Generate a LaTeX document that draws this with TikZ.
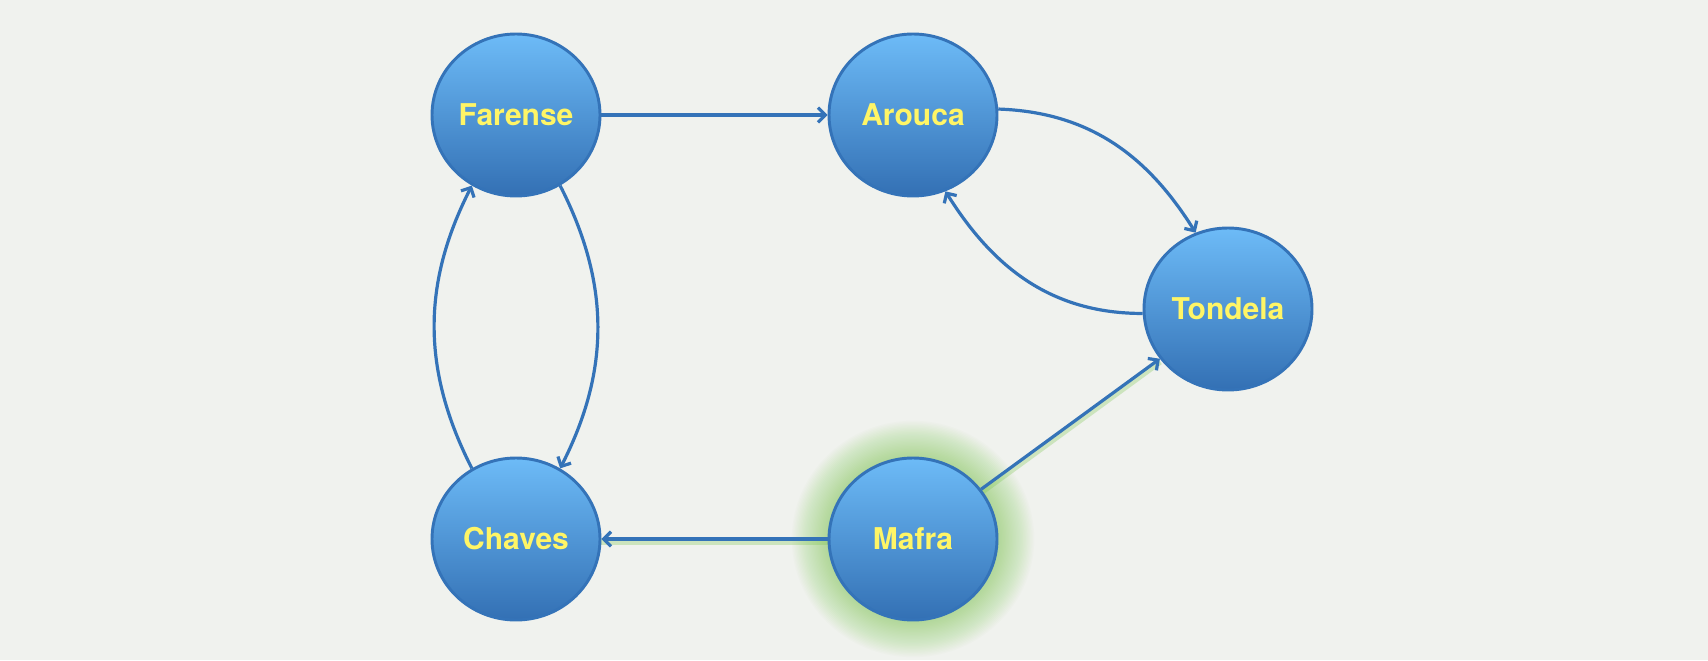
\documentclass[tikz,border=0pt]{standalone}
\usepackage{fontspec}
\setmainfont{TeX Gyre Heros}
\usetikzlibrary{shapes.geometric,arrows.meta,backgrounds}
\definecolor{bg}{HTML}{F0F2EE}
\definecolor{edgeblue}{HTML}{3473B8}
\definecolor{nodetop}{HTML}{6DBBF7}
\definecolor{nodebot}{HTML}{3370B4}
\definecolor{txt}{HTML}{FFF566}
\definecolor{glow}{HTML}{7CC64E}
\begin{document}
\begin{tikzpicture}[x=0.75pt,y=-0.75pt,
  team/.style={ellipse, minimum width=126pt, minimum height=121.5pt, inner sep=0pt,
    draw=edgeblue, line width=2.2pt, top color=nodetop, bottom color=nodebot,
    text=txt, font=\bfseries\fontsize{22.5}{26}\selectfont},
  link/.style={draw=edgeblue, line width=2.4pt, -{Straight Barb[length=5.5pt,width=11pt]}},
  halo/.style={draw=glow, line width=5pt, opacity=0.3}]
\node[team] (F) at (516,115) {Farense};
\node[team] (A) at (913,115) {Arouca};
\node[team] (T) at (1228,309) {Tondela};
\node[team] (C) at (516,539) {Chaves};
\node[team] (M) at (913,539) {Mafra};
\begin{scope}[on background layer]
  \fill[bg] (0,0) rectangle (1708,660);
  \foreach \i in {1,...,28}
    \fill[glow, opacity=0.022] (M.center) ellipse [x radius={0.75pt*(82+1.4*\i)}, y radius={0.75pt*(79+1.4*\i)}];
  \draw[halo, transform canvas={yshift=-2pt}] (M) -- (C);
  \draw[halo, transform canvas={yshift=-2pt}] (M) -- (T);
\end{scope}
\draw[link] (F) -- (A);
\draw[link] (A.4) to[out=-2, in=122] (T.113);
\draw[link] (T.183) to[out=180, in=-58] (A.293);
\draw[link] (F.-58) to[out=-63, in=63] (C.58);
\draw[link] (C.122) to[out=117, in=243] (F.238);
\draw[link] (M) -- (C);
\draw[link] (M) -- (T);
\end{tikzpicture}
\end{document}
